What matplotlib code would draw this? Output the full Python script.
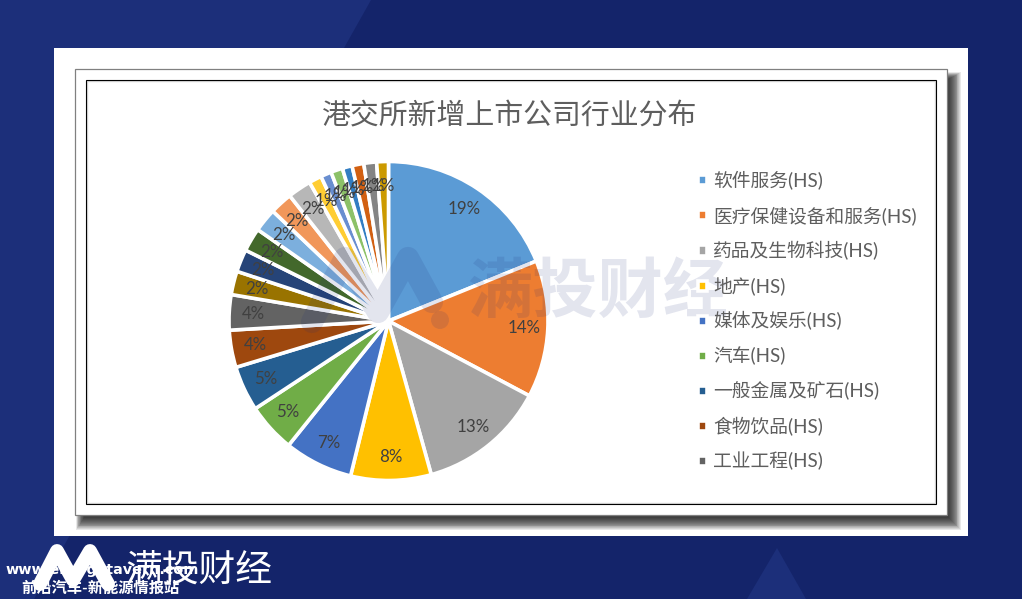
import matplotlib
matplotlib.use("Agg")
import matplotlib.pyplot as plt
from matplotlib.patches import Rectangle, Polygon, Circle

plt.rcParams["font.family"] = ["Lato", "Noto Sans CJK SC"]

# ---- data ----
title = "港交所新增上市公司行业分布"
legend_categories = ["软件服务(HS)", "医疗保健设备和服务(HS)", "药品及生物科技(HS)", "地产(HS)",
                     "媒体及娱乐(HS)", "汽车(HS)", "一般金属及矿石(HS)", "食物饮品(HS)", "工业工程(HS)"]
values = [19.0, 14.0, 13.0, 8.2, 7.0, 5.0, 4.6, 3.8, 3.6, 2.4, 2.3,
          2.4, 2.4, 2.3, 2.4, 1.3, 1.1, 1.2, 1.0, 1.2, 1.3, 1.2]
slice_colors = ["#5B9BD5", "#ED7D31", "#A5A5A5", "#FFC000", "#4472C4", "#70AD47", "#255E91",
                "#9E480E", "#636363", "#997300", "#264478", "#43682B", "#7CAFDD", "#F1975A",
                "#B7B7B7", "#FFCD33", "#698ED0", "#8CC168", "#327DC2", "#D26012", "#848484", "#CC9A00"]
brand = "满投财经"
site_url = "www.energytavern.com"
site_tag = "前沿汽车-新能源情报站"

W, H = 1022, 599
fig = plt.figure(figsize=(W / 100, H / 100), dpi=100)


def pixel_axes(zorder):
    a = fig.add_axes([0, 0, 1, 1], zorder=zorder)
    a.set_xlim(0, W)
    a.set_ylim(H, 0)
    a.axis("off")
    a.patch.set_alpha(0)
    return a


# ---- page background and chart card ----
bg = pixel_axes(0)
bg.add_patch(Rectangle((0, 0), W, H, fc="#14246A", ec="none"))
bg.add_patch(Polygon([(0, 0), (371, 0), (34, 599), (0, 599)], fc="#1C2F7A", ec="none"))
bg.add_patch(Polygon([(777, 548), (747, 599), (806, 599)], fc="#1C2F7A", ec="none"))
bg.add_patch(Rectangle((54, 48), 914, 488, fc="white", ec="none"))
for i in range(14):
    bg.add_patch(Rectangle((76 + i * 0.6, 72 + i * 0.5), 885 - i * 1.5, 458 - i * 1.4,
                           fc="black", ec="none", alpha=0.09))
bg.add_patch(Rectangle((75, 69), 872, 446, fc="white", ec="#808080", lw=0.9))
bg.add_patch(Rectangle((87, 81), 848, 422, fc="white", ec="#D8D8D8", lw=1.0))
bg.add_patch(Rectangle((86, 80), 850, 424, fc="none", ec="black", lw=0.8))
bg.text(510, 116, title, ha="center", va="center", fontsize=20.8, color="#5E5E5E")

# ---- pie ----
cx, cy, r = 388.5, 321, 159.5
ax = fig.add_axes([(cx - r) / W, 1 - (cy + r) / H, 2 * r / W, 2 * r / H], zorder=1)
wedges, _, autotexts = ax.pie(values, colors=slice_colors, startangle=90, counterclock=False,
                              radius=1, autopct="%.0f%%", pctdistance=0.85,
                              wedgeprops={"edgecolor": "white", "linewidth": 2.6})
for t in autotexts:
    t.set_fontsize(12.2)
    t.set_color("#404040")
ax.set_xlim(-1, 1)
ax.set_ylim(-1, 1)
ax.patch.set_alpha(0)

fig.legend(wedges[:9], legend_categories, loc="upper left",
           bbox_to_anchor=(681 / W, 1 - 154 / H), frameon=False,
           fontsize=13.5, labelcolor="#5E5E5E", handlelength=0.47, handleheight=0.47,
           handletextpad=0.36, labelspacing=0.865, borderpad=0.4)

# ---- watermark over the chart ----
top = pixel_axes(3)
mark = "#1A2A7A"
top.plot([312, 345, 378, 408, 432], [322, 258, 312, 258, 302], color=mark, alpha=0.12, lw=16,
         solid_joinstyle="round", solid_capstyle="round")
top.add_patch(Circle((440, 320), 9, fc=mark, ec="none", alpha=0.12))
top.text(598, 292, brand, ha="center", va="center", fontsize=47, color=mark, alpha=0.12,
         fontweight="bold")

# ---- footer logo ----
top.plot([40, 57, 73, 90, 108], [584, 551, 580, 551, 584], color="white", lw=10,
         solid_joinstyle="round", solid_capstyle="round")
top.text(199, 569, brand, ha="center", va="center", fontsize=26.5, color="white")
top.text(5, 570, site_url, ha="left", va="center", fontsize=10.4, color="white", fontweight="bold",
         family="DejaVu Sans")
top.text(100, 589, site_tag, ha="center", va="center", fontsize=11, color="white", fontweight="bold")

fig.savefig("out.png", dpi=100)
